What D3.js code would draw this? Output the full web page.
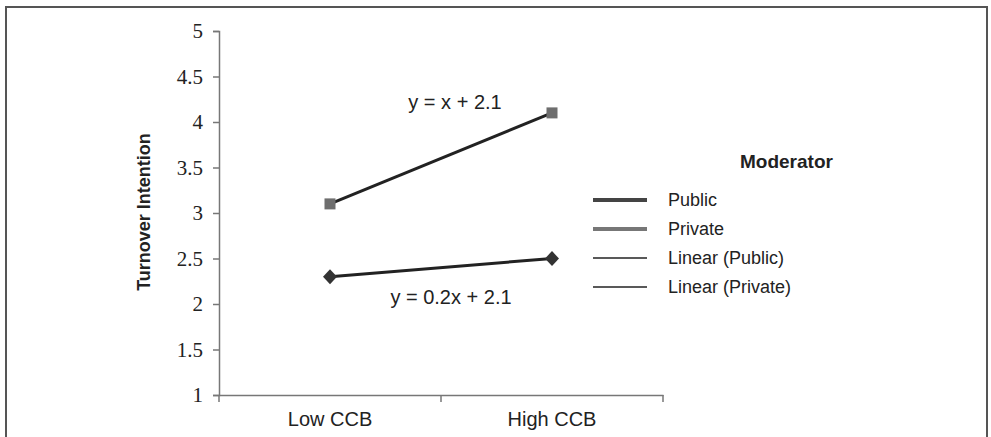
<!DOCTYPE html>
<html>
<head>
<meta charset="utf-8">
<script src="https://cdn.jsdelivr.net/npm/d3@7"></script>
<style>
body { margin: 0; background: #fff; }
</style>
</head>
<body>
<script>
const categories = ["Low CCB", "High CCB"];
const publicValues = [2.3, 2.5];
const privateValues = [3.1, 4.1];
const yTicks = [1, 1.5, 2, 2.5, 3, 3.5, 4, 4.5, 5];
const legendItems = ["Public", "Private", "Linear  (Public)", "Linear  (Private)"];
const equations = ["y = x + 2.1", "y = 0.2x + 2.1"];

const w = 991;
const h = 437;
const sans = "'Liberation Sans', Arial, sans-serif";

const svg = d3.select("body")
  .append("svg")
  .attr("width", w)
  .attr("height", h);

// outer frame, open at the bottom
svg.append("path")
  .attr("d", "M6,437 V7 H987 V437")
  .attr("fill", "none")
  .attr("stroke", "#555")
  .attr("stroke-width", 2);

const xScale = d3.scaleBand()
  .domain(categories)
  .range([219, 663]);

const yScale = d3.scaleLinear()
  .domain([1, 5])
  .range([395, 31]);

// y axis
const yAxis = d3.axisLeft(yScale)
  .tickValues(yTicks)
  .tickSize(6)
  .tickFormat(d => d);

const gy = svg.append("g")
  .attr("transform", "translate(219,0)")
  .call(yAxis)
  .attr("font-family", "'Liberation Serif', 'Times New Roman', serif")
  .attr("font-size", 21);
gy.select(".domain").attr("stroke", "#777").attr("stroke-width", 1.5);
gy.selectAll(".tick line").attr("stroke", "#777").attr("stroke-width", 1.5);
gy.selectAll("text")
  .attr("x", -16)
  .attr("fill", "#222");

// x axis
const xAxis = d3.axisBottom(xScale).tickSize(0);
const gx = svg.append("g")
  .attr("transform", "translate(0,395)")
  .call(xAxis)
  .attr("font-family", sans)
  .attr("font-size", 20);
gx.select(".domain").attr("stroke", "#777").attr("stroke-width", 1.5);
gx.selectAll("text")
  .attr("dy", "1.4em")
  .attr("fill", "#222");
// boundary ticks between categories
svg.selectAll(".xsep")
  .data([0, 1, 2])
  .enter()
  .append("line")
  .attr("x1", i => 219 + i * xScale.step())
  .attr("x2", i => 219 + i * xScale.step())
  .attr("y1", 395)
  .attr("y2", 402)
  .attr("stroke", "#777")
  .attr("stroke-width", 1.5);

// y label
svg.append("text")
  .attr("transform", "translate(150,212) rotate(-90)")
  .attr("text-anchor", "middle")
  .attr("font-family", sans)
  .attr("font-size", 18)
  .attr("font-weight", "bold")
  .attr("fill", "#222")
  .text("Turnover Intention");

const cx = c => xScale(c) + xScale.bandwidth() / 2;
const line = d3.line()
  .x((d, i) => cx(categories[i]))
  .y(d => yScale(d));

// series lines (trend lines coincide with data)
[publicValues, privateValues].forEach(vals => {
  svg.append("path")
    .datum(vals)
    .attr("d", line)
    .attr("fill", "none")
    .attr("stroke", "#222")
    .attr("stroke-width", 3);
});

// markers
svg.selectAll(".pub")
  .data(publicValues)
  .enter()
  .append("path")
  .attr("d", d3.symbol().type(d3.symbolDiamond).size(100))
  .attr("transform", (d, i) => `translate(${cx(categories[i])},${yScale(d)}) scale(1.3,0.8)`)
  .attr("fill", "#333");

svg.selectAll(".priv")
  .data(privateValues)
  .enter()
  .append("rect")
  .attr("x", (d, i) => cx(categories[i]) - 5.5)
  .attr("y", d => yScale(d) - 5.5)
  .attr("width", 11)
  .attr("height", 11)
  .attr("fill", "#6e6e6e");

// equations
svg.append("text")
  .attr("x", 455).attr("y", 109)
  .attr("text-anchor", "middle")
  .attr("font-family", sans)
  .attr("font-size", 20)
  .attr("fill", "#222")
  .text(equations[0]);
svg.append("text")
  .attr("x", 451).attr("y", 304)
  .attr("text-anchor", "middle")
  .attr("font-family", sans)
  .attr("font-size", 20)
  .attr("fill", "#222")
  .text(equations[1]);

// legend
svg.append("text")
  .attr("x", 740).attr("y", 168)
  .attr("font-family", sans)
  .attr("font-size", 19)
  .attr("font-weight", "bold")
  .attr("fill", "#222")
  .text("Moderator");

const legendStyles = [
  { color: "#444", width: 4 },
  { color: "#777", width: 4 },
  { color: "#222", width: 1.5 },
  { color: "#222", width: 1.5 }
];
const lg = svg.selectAll(".leg")
  .data(legendItems)
  .enter()
  .append("g")
  .attr("transform", (d, i) => `translate(0,${200 + i * 29})`);
lg.append("line")
  .attr("x1", 593).attr("x2", 647)
  .attr("stroke", (d, i) => legendStyles[i].color)
  .attr("stroke-width", (d, i) => legendStyles[i].width);
lg.append("text")
  .attr("x", 668)
  .attr("y", 6)
  .attr("font-family", sans)
  .attr("font-size", 18)
  .attr("fill", "#222")
  .text(d => d);
</script>
</body>
</html>
